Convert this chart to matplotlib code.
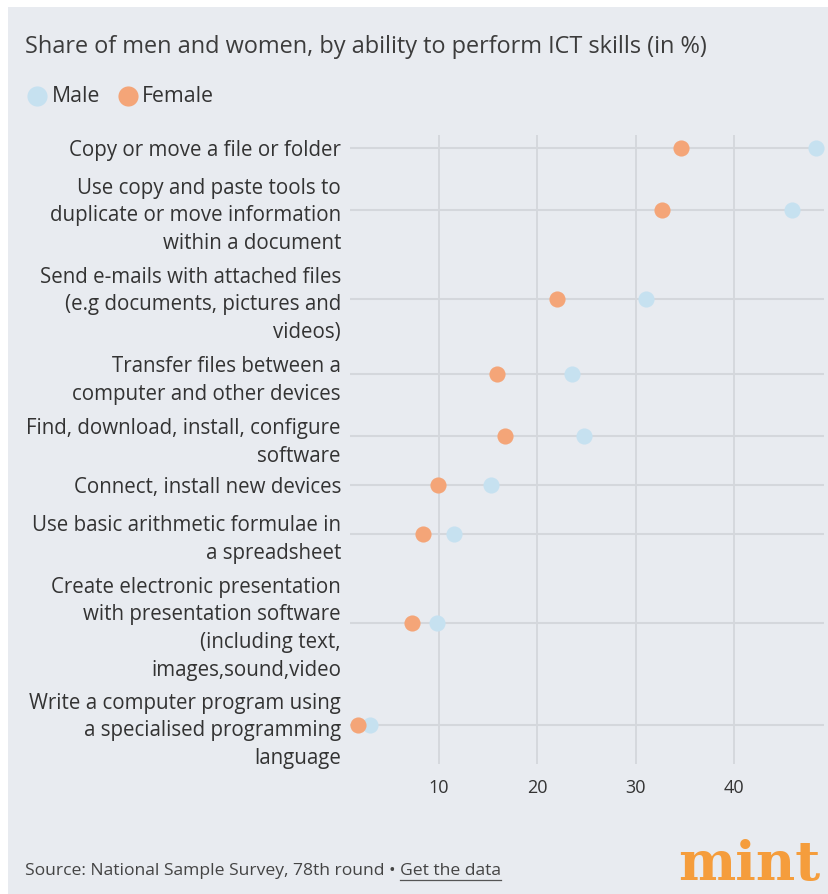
import numpy as np
import matplotlib
matplotlib.use("Agg")
import matplotlib.pyplot as plt
from matplotlib.patches import Rectangle
from matplotlib.lines import Line2D

plt.rcParams['font.family'] = ['Open Sans', 'DejaVu Sans']

skills = [
    "Copy or move a file or folder",
    "Use copy and paste tools to\nduplicate or move information\nwithin a document",
    "Send e-mails with attached files\n(e.g documents, pictures and\nvideos)",
    "Transfer files between a\ncomputer and other devices",
    "Find, download, install, configure\nsoftware",
    "Connect, install new devices",
    "Use basic arithmetic formulae in\na spreadsheet",
    "Create electronic presentation\nwith presentation software\n(including text,\nimages,sound,video",
    "Write a computer program using\na specialised programming\nlanguage",
]
male = [48.3, 45.8, 31.0, 23.5, 24.7, 15.3, 11.5, 9.8, 3.0]
female = [34.6, 32.6, 22.0, 15.9, 16.7, 9.9, 8.4, 7.3, 1.8]
xticks = [10, 20, 30, 40]

male_c = "#c6e1f0"
female_c = "#f4a578"
grid_c = "#d4d7dc"
bg_c = "#e8ebf0"
text_c = "#333333"

W, H = 829, 894
fig = plt.figure(figsize=(W / 100, H / 100), dpi=100)
fig.patch.set_facecolor("white")
fig.add_artist(Rectangle((8 / W, 0), 1 - 8 / W, 1 - 7 / H, transform=fig.transFigure,
                         facecolor=bg_c, edgecolor="none", zorder=0))

# each row gets a band whose height follows the number of label lines
nlines = np.array([s.count("\n") + 1 for s in skills])
heights = 26.7 * nlines + 8.7
ypos = np.cumsum(heights) - heights / 2

ax = fig.add_axes([350 / W, (H - 764) / H, (824 - 350) / W, (764 - 135) / H])
ax.set_facecolor("none")
ax.set_xlim(0.96, 49.1)
ax.set_ylim(633.7, 4.7)

for y in ypos:
    ax.axhline(y, color=grid_c, lw=1.5, zorder=1)
for x in xticks:
    ax.axvline(x, color=grid_c, lw=1.3, zorder=1)

ax.scatter(male, ypos, s=135, color=male_c, linewidths=0, zorder=3, clip_on=False)
ax.scatter(female, ypos, s=135, color=female_c, linewidths=0, zorder=4, clip_on=False)

ax.set_yticks(ypos)
ax.set_yticklabels(skills, fontsize=14.8, color=text_c, linespacing=1.42)
ax.set_xticks(xticks)
ax.set_xticklabels([str(t) for t in xticks], fontsize=13, color=text_c)
ax.tick_params(axis="y", length=0, pad=6.5)
ax.tick_params(axis="x", length=0, pad=11)
for sp in ax.spines.values():
    sp.set_visible(False)

fig.text(25 / W, 1 - 47 / H, "Share of men and women, by ability to perform ICT skills (in %)",
         fontsize=16.9, color="#3c3c3c", va="center", ha="left")

# legend
fig.add_artist(Line2D([37 / W], [1 - 96 / H], marker="o", markersize=14.5, color=male_c,
                      markeredgewidth=0, transform=fig.transFigure))
fig.text(52 / W, 1 - 96 / H, "Male", fontsize=15.3, color=text_c, va="center")
fig.add_artist(Line2D([128 / W], [1 - 96 / H], marker="o", markersize=14.5, color=female_c,
                      markeredgewidth=0, transform=fig.transFigure))
fig.text(142 / W, 1 - 96 / H, "Female", fontsize=15.3, color=text_c, va="center")

# footer
src = fig.text(25 / W, 1 - 871 / H, "Source: National Sample Survey, 78th round \u2022 ",
               fontsize=12.6, color="#444444", va="center")
fig.canvas.draw()
bb = src.get_window_extent()
link = fig.text(bb.x1 / W, 1 - 871 / H, "Get the data", fontsize=12.6, color="#444444", va="center")
fig.canvas.draw()
lb = link.get_window_extent()
fig.add_artist(Line2D([lb.x0 / W, lb.x1 / W], [(lb.y0 - 1) / H] * 2, color="#555555", lw=0.9,
                      transform=fig.transFigure))

fig.text(820 / W, 1 - 880 / H, "mint", fontsize=39, fontweight="bold", family="DejaVu Serif",
         color="#f59d3c", ha="right", va="baseline")

fig.savefig("out.png", dpi=100)
